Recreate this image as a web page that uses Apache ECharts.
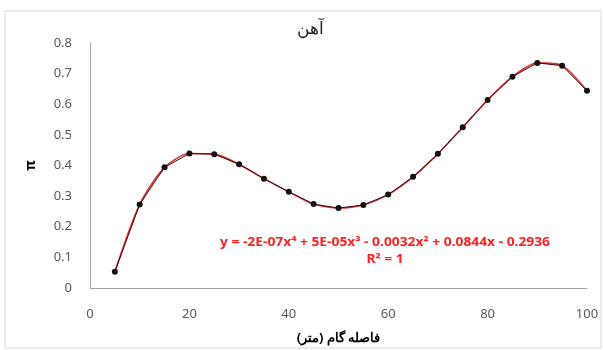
<!DOCTYPE html>
<html>
<head>
<meta charset="utf-8">
<script src="https://cdn.jsdelivr.net/npm/echarts@6/dist/echarts.min.js"></script>
<style>html,body{margin:0;padding:0;background:#fff}#c{width:603px;height:350px}</style>
</head>
<body>
<div id="c"></div>
<script>
const xValues = [5,10,15,20,25,30,35,40,45,50,55,60,65,70,75,80,85,90,95,100];
const yValues = [0.053,0.273,0.394,0.439,0.437,0.404,0.357,0.314,0.274,0.261,0.271,0.305,0.363,0.438,0.525,0.614,0.690,0.735,0.726,0.644];
const xTicks = [0,20,40,60,80,100];
const yTicks = [0,0.1,0.2,0.3,0.4,0.5,0.6,0.7,0.8];
const titleText = 'آهن';
const xTitle = 'فاصله گام (متر)';
const yTitle = 'π';
const eqLine1 = 'y = -2E-07x⁴ + 5E-05x³ - 0.0032x² + 0.0844x - 0.2936';
const eqLine2 = 'R² = 1';

const pts = xValues.map((x,i)=>[x,yValues[i]]);
const chart = echarts.init(document.getElementById('c'), null, {renderer:'canvas'});
const font = 'Noto Sans';
chart.setOption({
  animation:false,
  backgroundColor:'#fff',
  title:{text:titleText,left:305,top:16,textAlign:'center',textStyle:{fontFamily:font,fontSize:17,fontWeight:'normal',color:'#222'}},
  graphic:[{type:'rect',shape:{x:5,y:11,width:596,height:337},style:{fill:'none',stroke:'#d9d9d9',lineWidth:1},silent:true},
    {type:'text',x:385,y:234,scaleX:1.2,silent:true,style:{text:eqLine1+'\n'+eqLine2,textAlign:'center',fill:'#ff2020',font:'bold 11.5px "Noto Sans"',lineHeight:17}}],
  grid:{left:90,right:16,top:43,bottom:58},
  xAxis:{type:'value',min:0,max:100,interval:20,
    name:xTitle,nameLocation:'middle',nameGap:44,
    nameTextStyle:{fontFamily:font,fontSize:13,fontWeight:'bold',color:'#000'},
    axisLine:{show:true,lineStyle:{color:'#a6a6a6',width:1}},
    axisTick:{show:false},splitLine:{show:false},
    axisLabel:{margin:20,fontFamily:font,fontSize:13,color:'#595959',formatter:v=>xTicks.includes(v)?String(v):''}},
  yAxis:{type:'value',min:0,max:0.8,interval:0.1,
    name:yTitle,nameLocation:'middle',nameGap:52,nameRotate:90,
    nameTextStyle:{fontFamily:font,fontSize:14,fontWeight:'bold',color:'#000'},
    axisLine:{show:true,lineStyle:{color:'#a6a6a6',width:1}},
    axisTick:{show:false},splitLine:{show:false},
    axisLabel:{margin:18,fontFamily:font,fontSize:13,color:'#595959',formatter:v=>{const t=yTicks.find(k=>Math.abs(k-v)<1e-9);return t===undefined?'':String(t);}}},
  series:[
    {type:'line',data:pts,smooth:0.25,showSymbol:false,lineStyle:{color:'#e03030',width:1.6},z:2},
    {type:'line',data:pts,symbol:'circle',symbolSize:6,itemStyle:{color:'#111'},lineStyle:{color:'#3a1010',width:1},z:3}
  ]
});
</script>
</body>
</html>
